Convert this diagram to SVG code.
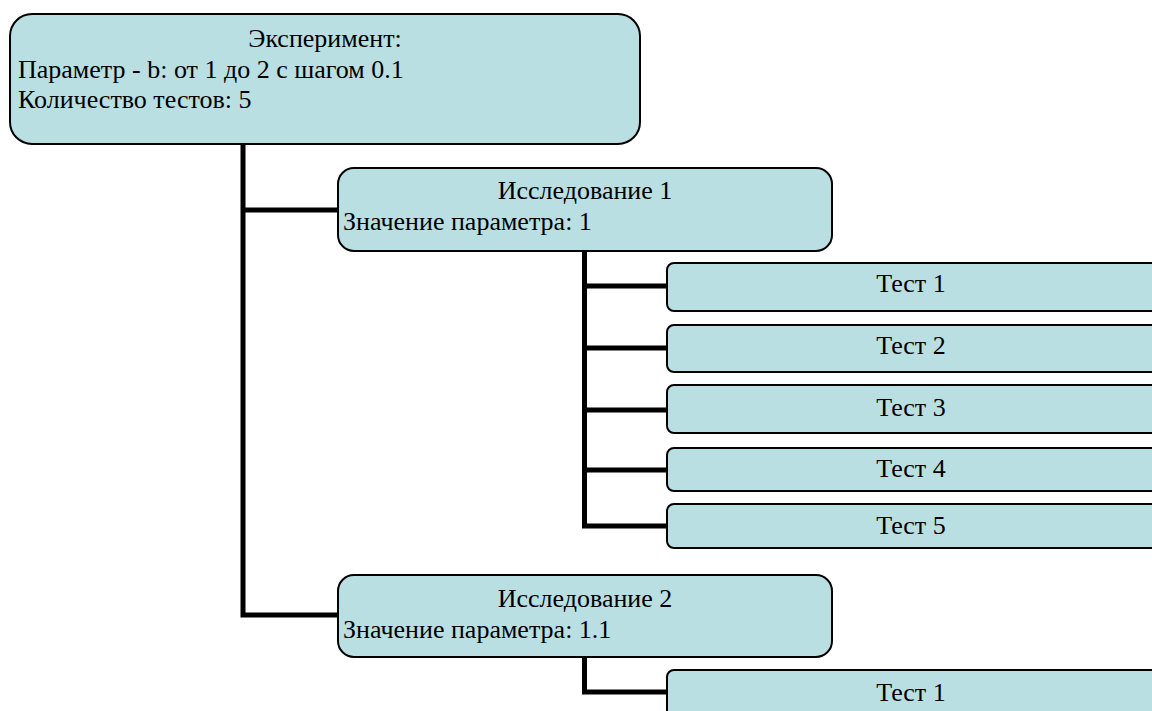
<svg xmlns="http://www.w3.org/2000/svg" width="1152" height="711" viewBox="0 0 1152 711">
<style>
.box{fill:#b9dfe3;stroke:#000;stroke-width:2}
.t{font-family:"Liberation Serif","Times New Roman",serif;font-size:26px;fill:#000}
.c{text-anchor:middle}
.conn{fill:none;stroke:#000;stroke-width:5;stroke-linejoin:miter}
</style>
<rect width="1152" height="711" fill="#fff"/>
<g id="connectors">
<path class="conn" d="M243,145 V615 H338 M243,210 H338"/>
<path class="conn" d="M584.5,252 V526 H667 M584.5,286 H667 M584.5,348 H667 M584.5,410 H667 M584.5,470 H667"/>
<path class="conn" d="M584.5,657 V692 H667"/>
</g>
<g id="experiment">
<rect class="box" x="10" y="14" width="630" height="130" rx="22"/>
<text class="t c" x="325" y="47">Эксперимент:</text>
<text class="t" x="18" y="78">Параметр - b: от 1 до 2 с шагом 0.1</text>
<text class="t" x="18" y="108">Количество тестов: 5</text>
</g>
<g id="study1">
<rect class="box" x="338" y="168" width="494" height="83" rx="16"/>
<text class="t c" x="585" y="199">Исследование 1</text>
<text class="t" x="343" y="230">Значение параметра: 1</text>
</g>
<g id="s1test1">
<rect class="box" x="667" y="263" width="500" height="48" rx="7"/>
<text class="t c" x="911" y="292">Тест 1</text>
</g>
<g id="s1test2">
<rect class="box" x="667" y="325" width="500" height="47" rx="7"/>
<text class="t c" x="911" y="354">Тест 2</text>
</g>
<g id="s1test3">
<rect class="box" x="667" y="385" width="500" height="48" rx="7"/>
<text class="t c" x="911" y="416">Тест 3</text>
</g>
<g id="s1test4">
<rect class="box" x="667" y="448" width="500" height="43" rx="7"/>
<text class="t c" x="911" y="477">Тест 4</text>
</g>
<g id="s1test5">
<rect class="box" x="667" y="504" width="500" height="44" rx="7"/>
<text class="t c" x="911" y="534">Тест 5</text>
</g>
<g id="study2">
<rect class="box" x="338" y="575" width="494" height="82" rx="16"/>
<text class="t c" x="585" y="607">Исследование 2</text>
<text class="t" x="343" y="638">Значение параметра: 1.1</text>
</g>
<g id="s2test1">
<rect class="box" x="667" y="670" width="500" height="60" rx="7"/>
<text class="t c" x="911" y="701">Тест 1</text>
</g>
</svg>
